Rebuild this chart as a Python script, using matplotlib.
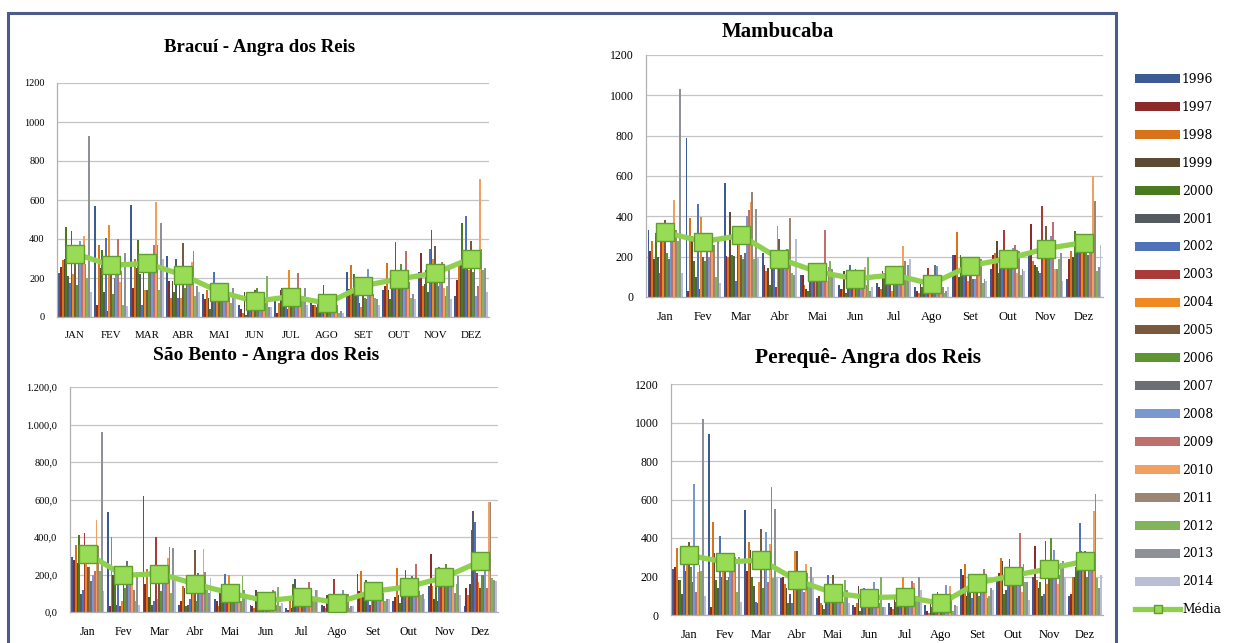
import matplotlib
matplotlib.use("Agg")
import matplotlib.pyplot as plt
import numpy as np
from matplotlib.patches import Rectangle

years = [str(y) for y in range(1996, 2015)]
months_upper = ["JAN", "FEV", "MAR", "ABR", "MAI", "JUN", "JUL", "AGO", "SET", "OUT", "NOV", "DEZ"]
months = ["Jan", "Fev", "Mar", "Abr", "Mai", "Jun", "Jul", "Ago", "Set", "Out", "Nov", "Dez"]

# rows = months (Jan..Dez), columns = years 1996..2014
bracui = [
    [225, 255, 290, 300, 460, 210, 175, 440, 220, 300, 165, 310, 390, 280, 415, 270, 200, 930, 130],
    [570, 60, 370, 250, 345, 130, 405, 30, 470, 250, 120, 200, 250, 400, 180, 235, 60, 330, 55],
    [575, 150, 295, 250, 395, 220, 60, 280, 140, 140, 250, 230, 300, 370, 590, 370, 140, 480, 300],
    [315, 185, 100, 185, 130, 300, 100, 200, 100, 380, 150, 200, 220, 240, 280, 340, 110, 160, 130],
    [120, 90, 140, 100, 40, 110, 230, 120, 80, 130, 90, 150, 130, 100, 110, 120, 70, 150, 110],
    [60, 40, 20, 130, 10, 60, 100, 80, 130, 140, 150, 90, 60, 80, 100, 70, 210, 50, 50],
    [80, 20, 70, 140, 150, 90, 130, 40, 240, 100, 60, 120, 100, 225, 130, 80, 110, 150, 60],
    [70, 60, 60, 50, 70, 20, 80, 165, 40, 110, 50, 120, 60, 80, 120, 60, 20, 30, 20],
    [230, 145, 265, 140, 220, 150, 200, 70, 50, 180, 100, 90, 245, 110, 180, 120, 100, 90, 60],
    [140, 160, 275, 140, 90, 190, 150, 385, 170, 200, 270, 180, 230, 340, 200, 180, 100, 120, 90],
    [230, 330, 160, 170, 240, 130, 350, 445, 300, 365, 180, 160, 200, 280, 150, 110, 160, 240, 90],
    [110, 190, 260, 290, 480, 250, 520, 290, 240, 390, 230, 300, 110, 160, 710, 350, 240, 250, 130],
]
bracui_media = [325, 265, 275, 215, 130, 80, 105, 70, 160, 195, 225, 300]

mambucaba = [
    [330, 230, 280, 190, 315, 200, 120, 290, 330, 380, 220, 190, 300, 280, 480, 330, 280, 1030, 120],
    [790, 30, 390, 300, 180, 100, 460, 40, 395, 200, 180, 260, 200, 250, 300, 260, 100, 280, 70],
    [565, 205, 200, 420, 210, 205, 80, 300, 280, 210, 190, 220, 400, 430, 470, 520, 190, 435, 200],
    [220, 160, 130, 145, 60, 140, 150, 50, 350, 290, 150, 200, 160, 240, 240, 390, 120, 110, 290],
    [110, 110, 60, 40, 30, 90, 120, 130, 100, 150, 100, 140, 130, 330, 80, 150, 180, 140, 100],
    [60, 40, 40, 130, 20, 60, 160, 80, 130, 140, 80, 90, 80, 120, 150, 60, 200, 30, 50],
    [70, 50, 40, 130, 120, 80, 60, 90, 30, 80, 100, 140, 80, 100, 255, 180, 90, 160, 190],
    [50, 30, 20, 70, 50, 60, 90, 145, 30, 60, 30, 160, 155, 40, 80, 50, 20, 30, 50],
    [210, 210, 320, 100, 210, 160, 120, 130, 80, 150, 170, 90, 90, 130, 180, 190, 70, 90, 80],
    [140, 210, 220, 280, 120, 150, 200, 330, 150, 200, 150, 200, 245, 260, 120, 230, 110, 140, 130],
    [210, 360, 180, 160, 150, 130, 120, 450, 200, 350, 200, 200, 300, 370, 140, 140, 190, 220, 80],
    [90, 190, 230, 200, 325, 310, 300, 290, 230, 260, 280, 210, 250, 230, 600, 475, 130, 150, 260],
]
mambucaba_media = [320, 275, 305, 190, 125, 90, 110, 65, 155, 190, 240, 270]

sao_bento = [
    [295, 280, 360, 260, 410, 95, 120, 420, 310, 240, 240, 165, 200, 220, 490, 350, 220, 960, 110],
    [535, 30, 400, 200, 200, 40, 200, 30, 60, 200, 130, 270, 200, 230, 240, 120, 60, 190, 40],
    [620, 150, 230, 80, 230, 40, 60, 400, 70, 170, 110, 230, 150, 200, 290, 345, 100, 340, 170],
    [40, 60, 140, 130, 30, 40, 70, 180, 200, 330, 60, 210, 150, 100, 335, 215, 120, 100, 180],
    [70, 60, 30, 100, 60, 50, 205, 70, 195, 150, 60, 90, 100, 70, 100, 60, 190, 120, 80],
    [40, 30, 20, 120, 10, 40, 100, 50, 60, 70, 30, 40, 30, 120, 110, 40, 135, 30, 50],
    [20, 10, 70, 20, 150, 175, 60, 40, 130, 60, 30, 60, 110, 160, 100, 80, 60, 120, 120],
    [40, 30, 20, 90, 30, 80, 40, 175, 20, 40, 20, 90, 120, 30, 60, 95, 20, 30, 30],
    [205, 110, 220, 90, 60, 170, 80, 40, 70, 130, 60, 90, 80, 140, 60, 100, 60, 70, 70],
    [60, 80, 235, 90, 50, 120, 100, 225, 80, 180, 130, 190, 180, 255, 140, 110, 90, 95, 70],
    [140, 310, 140, 70, 210, 60, 240, 160, 150, 200, 255, 180, 220, 150, 180, 100, 150, 190, 90],
    [30, 130, 90, 150, 440, 540, 480, 210, 160, 130, 200, 200, 230, 130, 585, 585, 180, 170, 165],
]
sao_bento_media = [310, 195, 205, 150, 100, 60, 80, 50, 110, 135, 185, 270]

pereque = [
    [240, 250, 350, 180, 180, 110, 330, 230, 360, 380, 250, 170, 680, 120, 225, 260, 230, 1020, 100],
    [940, 40, 485, 320, 180, 140, 410, 200, 300, 250, 180, 200, 260, 240, 300, 300, 120, 300, 70],
    [545, 230, 380, 340, 200, 150, 70, 60, 170, 445, 140, 250, 430, 170, 370, 665, 190, 550, 200],
    [190, 200, 160, 140, 60, 110, 60, 130, 330, 335, 180, 210, 220, 120, 265, 220, 150, 250, 200],
    [90, 100, 60, 50, 30, 60, 210, 110, 90, 210, 130, 100, 90, 100, 120, 70, 180, 130, 60],
    [50, 40, 60, 150, 20, 80, 140, 60, 120, 100, 130, 70, 170, 90, 80, 60, 200, 40, 40],
    [60, 40, 30, 90, 70, 60, 80, 60, 200, 90, 80, 100, 90, 175, 165, 80, 100, 200, 130],
    [50, 20, 10, 60, 40, 60, 30, 120, 20, 70, 40, 90, 155, 40, 150, 90, 20, 50, 45],
    [240, 210, 265, 100, 150, 160, 90, 120, 130, 160, 100, 150, 180, 240, 210, 90, 100, 140, 130],
    [200, 220, 295, 280, 110, 130, 150, 290, 200, 180, 150, 200, 190, 425, 120, 265, 170, 170, 80],
    [200, 360, 180, 140, 170, 100, 110, 385, 160, 230, 400, 280, 340, 250, 160, 210, 270, 280, 200],
    [100, 110, 200, 200, 250, 240, 480, 330, 280, 335, 200, 230, 290, 260, 540, 630, 190, 140, 210],
]
pereque_media = [310, 275, 285, 180, 115, 90, 95, 60, 165, 205, 240, 280]

titles = ["Bracuí - Angra dos Reis", "Mambucaba", "São Bento - Angra dos Reis", "Perequê- Angra dos Reis"]
yticks = [0, 200, 400, 600, 800, 1000, 1200]
yticklabels_int = ["0", "200", "400", "600", "800", "1000", "1200"]
yticklabels_dec = ["0,0", "200,0", "400,0", "600,0", "800,0", "1.000,0", "1.200,0"]

colors = ['#3c5a94', '#8c2a2a', '#d9731a', '#5c4a32', '#4a7a1e', '#555a60',
          '#4f72b8', '#a83a38', '#ef8a22', '#7a5a3e', '#5e9432', '#6c7075',
          '#7b97cf', '#c0706c', '#f0a060', '#9a8672', '#82b45e', '#8e9296', '#b9bdd6']
media_color = '#8fd14f'

W, H = 1235, 643
fig = plt.figure(figsize=(W / 100, H / 100), dpi=100)

def frac(l, t, r, b):
    return [l / W, 1 - b / H, (r - l) / W, (b - t) / H]

panels = [
    dict(rect=frac(57, 83, 489, 317), data=bracui, media=bracui_media, xl=months_upper,
         yl=yticklabels_int, xfs=7.8, yfs=7.5, title_xy=(260, 48), tfs=13.5),
    dict(rect=frac(646, 55, 1103, 297), data=mambucaba, media=mambucaba_media, xl=months,
         yl=yticklabels_int, xfs=9, yfs=8.5, title_xy=(778, 32), tfs=15),
    dict(rect=frac(70, 387, 498, 612), data=sao_bento, media=sao_bento_media, xl=months,
         yl=yticklabels_dec, xfs=8.5, yfs=7.5, title_xy=(266, 355), tfs=14),
    dict(rect=frac(671, 384, 1103, 615), data=pereque, media=pereque_media, xl=months,
         yl=yticklabels_int, xfs=9, yfs=8.5, title_xy=(868, 358), tfs=15.5),
]

serif = ['Liberation Serif', 'DejaVu Serif']
nyears = len(years)
group_w = 0.92
bw = group_w / nyears
x = np.arange(len(months))

axes = []
for i, p in enumerate(panels):
    ax = fig.add_axes(p['rect'])
    arr = np.array(p['data'], dtype=float)
    for j in range(nyears):
        ax.bar(x - group_w / 2 + bw * (j + 0.5), arr[:, j], width=bw, color=colors[j],
               label=years[j], linewidth=0, zorder=2)
    ax.plot(x, p['media'], color=media_color, lw=3.8, marker='s', markersize=12.5,
            markerfacecolor='#98dc55', markeredgecolor='#5f9e2c', markeredgewidth=1.0,
            label='Média', zorder=4)
    ax.set_xlim(-0.5, len(months) - 0.5)
    ax.set_ylim(0, 1200)
    ax.set_yticks(yticks)
    ax.set_yticklabels(p['yl'], fontsize=p['yfs'], family=serif)
    ax.set_xticks(x)
    ax.set_xticklabels(p['xl'], fontsize=p['xfs'], family=serif)
    ax.tick_params(length=0, axis='y', pad=9)
    ax.tick_params(length=0, axis='x', pad=10)
    ax.grid(axis='y', color='#c4c4c4', lw=0.9, zorder=0)
    ax.set_axisbelow(True)
    for s in ['top', 'right']:
        ax.spines[s].set_visible(False)
    for s in ['left', 'bottom']:
        ax.spines[s].set_color('#b0b0b0')
        ax.spines[s].set_linewidth(0.9)
    ax.set_facecolor('none')
    tx, ty = p['title_xy']
    fig.text(tx / W, 1 - ty / H, titles[i], ha='center', va='center',
             fontsize=p['tfs'], fontweight='bold', family=serif)
    axes.append(ax)

# outer frame
fig.add_artist(Rectangle((8 / W, -0.02), (1116 - 8) / W, 1 - 13 / H + 0.02,
                         transform=fig.transFigure, fill=False,
                         edgecolor='#4a5c8c', lw=2.2, zorder=10))

handles, labels = axes[0].get_legend_handles_labels()
order = [labels.index(y) for y in years] + [labels.index('Média')]
handles = [handles[k] for k in order]
labels = [labels[k] for k in order]
leg = fig.legend(handles, labels, loc='upper left', bbox_to_anchor=(1135 / W, 1 - 73 / H),
                 frameon=False, prop={'family': 'DejaVu Serif', 'size': 8.8},
                 handlelength=3.7, handleheight=0.75, handletextpad=0.15,
                 labelspacing=1.22, borderpad=0, borderaxespad=0, numpoints=1)
for h in leg.legend_handles:
    try:
        h.set_markersize(6)
    except AttributeError:
        pass

fig.savefig('out.png', dpi=100)
